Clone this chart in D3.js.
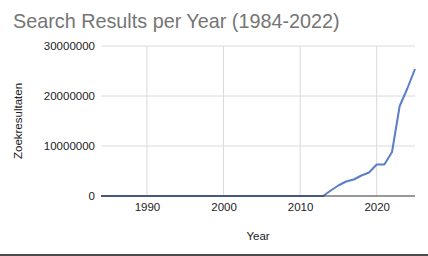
<!DOCTYPE html>
<html>
<head>
<meta charset="utf-8">
<script src="https://cdn.jsdelivr.net/npm/d3@7"></script>
<style>
  body { margin: 0; background: #fff; }
  svg { display: block; font-family: "Liberation Sans", Arial, sans-serif; }
</style>
</head>
<body>
<svg id="chart" width="428" height="256"></svg>
<script>
const years = d3.range(1984, 2026);
// values 1984..2012 are zero, then the rise
const lateValues = [0, 1100000, 2100000, 2900000, 3300000, 4100000, 4700000, 6300000, 6300000, 8800000, 18000000, 21500000, 25400000];
const values = years.map(y => y < 2013 ? 0 : lateValues[y - 2013]);
const xTicks = [1990, 2000, 2010, 2020];
const yTicks = [0, 10000000, 20000000, 30000000];

const margin = { top: 46, right: 13, bottom: 60, left: 101 };
const svg = d3.select('#chart');
const width = 428 - margin.left - margin.right;
const height = 256 - margin.top - margin.bottom;

const x = d3.scaleLinear().domain([1984, 2025]).range([0, width]);
const y = d3.scaleLinear().domain([0, 30000000]).range([height, 0]);

svg.append('text')
    .attr('x', 13).attr('y', 28)
    .attr('fill', '#757575')
    .attr('font-size', 19.8)
    .text('Search Results per Year (1984-2022)');

const g = svg.append('g')
    .attr('transform', `translate(${margin.left},${margin.top})`);

// grid
g.append('g')
  .selectAll('line.h')
  .data(yTicks.slice(1))
  .join('line')
    .attr('x1', 0).attr('x2', width)
    .attr('y1', d => y(d)).attr('y2', d => y(d))
    .attr('stroke', '#dadada');
g.append('g')
  .selectAll('line.v')
  .data(xTicks)
  .join('line')
    .attr('x1', d => x(d)).attr('x2', d => x(d))
    .attr('y1', 0).attr('y2', height)
    .attr('stroke', '#dadada');

// axes
const yAxis = g.append('g')
    .call(d3.axisLeft(y).tickValues(yTicks).tickSize(0).tickPadding(6).tickFormat(d3.format('d')));
yAxis.select('.domain').remove();
yAxis.selectAll('text').attr('fill', '#222').attr('font-size', 11.5).attr('font-family', null);

const xAxis = g.append('g')
    .attr('transform', `translate(0,${height})`)
    .call(d3.axisBottom(x).tickValues(xTicks).tickSize(0).tickPadding(7).tickFormat(d3.format('d')));
xAxis.select('.domain').remove();
xAxis.selectAll('text').attr('fill', '#222').attr('font-size', 11.5).attr('font-family', null);

g.append('path')
    .datum(years.map((yr, i) => [yr, values[i]]))
    .attr('fill', 'none')
    .attr('stroke', '#5a7ec8')
    .attr('stroke-width', 2)
    .attr('stroke-linejoin', 'round')
    .attr('d', d3.line().x(d => x(d[0])).y(d => y(d[1])));

g.append('line')
    .attr('x1', 0).attr('x2', width)
    .attr('y1', height).attr('y2', height)
    .attr('stroke', '#333');

// axis titles
svg.append('text')
    .attr('x', margin.left + width / 2).attr('y', 240)
    .attr('text-anchor', 'middle')
    .attr('fill', '#222').attr('font-size', 11.5)
    .text('Year');
svg.append('text')
    .attr('transform', `translate(22,${margin.top + height / 2}) rotate(-90)`)
    .attr('text-anchor', 'middle')
    .attr('fill', '#222').attr('font-size', 11.5)
    .text('Zoekresultaten');

// frame line at bottom
svg.append('line')
    .attr('x1', 0).attr('x2', 428)
    .attr('y1', 255).attr('y2', 255)
    .attr('stroke', '#111').attr('stroke-width', 1.5);
</script>
</body>
</html>
